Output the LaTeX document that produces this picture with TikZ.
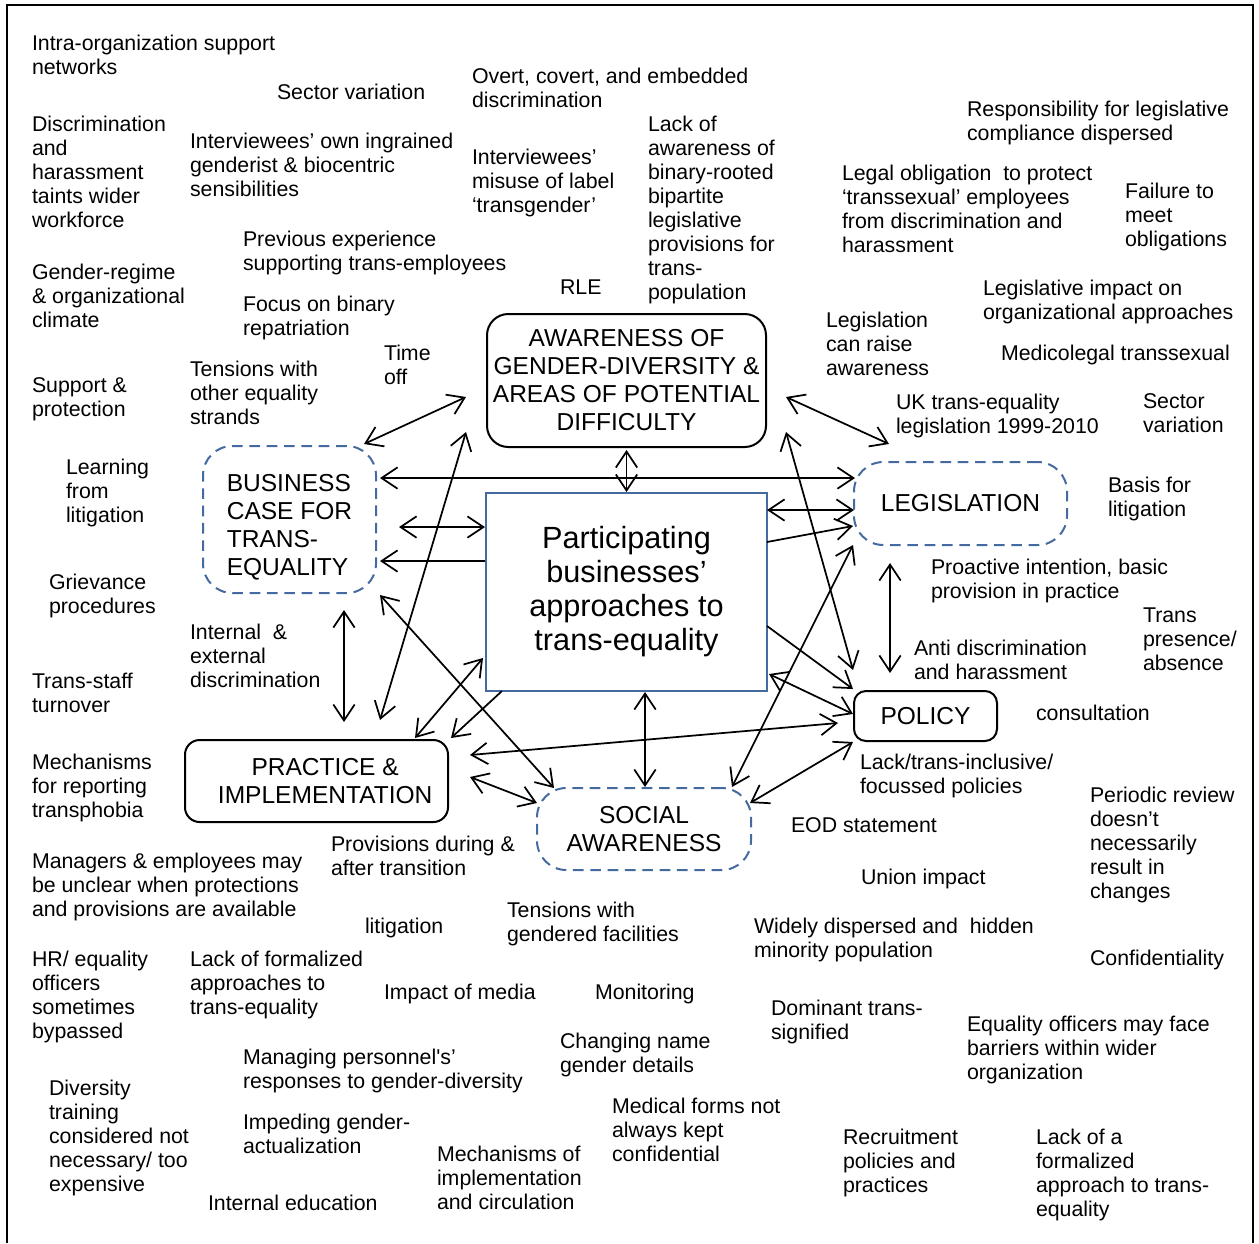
\documentclass[tikz,border=0pt]{standalone}
\usepackage{fontspec}
\setmainfont{Liberation Sans}
\usetikzlibrary{arrows.meta,calc}
\definecolor{boxblue}{RGB}{68,106,160}
\tikzset{
  lbl/.style={anchor=north west, inner sep=0pt, outer sep=0pt, align=left, font=\fontsize{16}{18}\selectfont},
  boxtxt/.style={align=center, inner sep=0pt, outer sep=0pt, font=\fontsize{18.4}{21}\selectfont},
  solidbox/.style={boxtxt, draw=black, line width=1.5pt},
  dashbox/.style={boxtxt, draw=boxblue, line width=1.5pt, dash pattern=on 8pt off 5pt, rounded corners=22pt},
  centbox/.style={draw=boxblue, line width=1.4pt, align=center, inner sep=0pt, outer sep=0pt, font=\fontsize{23}{25.5}\selectfont},
  conn/.style={line width=1.3pt},
  >={Straight Barb[length=12pt,width=16pt]}
}
\begin{document}
\begin{tikzpicture}[x=0.75pt,y=-0.75pt]
\useasboundingbox (0,0) rectangle (1259,1243);
% frame
\draw[line width=1.5pt] (7,1243) -- (7,5) -- (1253,5) -- (1253,1243);

% main nodes
\node[solidbox, rounded corners=16pt, minimum width=209.25pt, minimum height=99.75pt] (aw) at (626.5,380.5)
  {AWARENESS OF\\GENDER-DIVERSITY \&\\AREAS OF POTENTIAL\\DIFFICULTY};
\node[centbox, minimum width=210.75pt, minimum height=148.5pt] (cen) at (626.5,592)
  {Participating\\businesses’\\approaches to\\trans-equality};
\node[dashbox, minimum width=129.75pt, minimum height=110.25pt, align=left] (bus) at (289.5,519.5)
  {\rule{0pt}{24.4pt}BUSINESS\\CASE FOR\\TRANS-\\EQUALITY};
\node[dashbox, minimum width=159.75pt, minimum height=62.25pt] (leg) at (960.5,503.5) {LEGISLATION};
\node[solidbox, rounded corners=9pt, minimum width=107.25pt, minimum height=37.5pt] (pol) at (925.5,716) {POLICY};
\node[solidbox, rounded corners=11pt, minimum width=197.25pt, minimum height=61.5pt] (pra) at (316.5,781)
  {\kern13pt PRACTICE \&\\\kern13pt IMPLEMENTATION};
\node[dashbox, minimum width=160.5pt, minimum height=61.5pt] (soc) at (644,829) {SOCIAL\\AWARENESS};

% connectors
\draw[conn,<->] ($(aw.west)+(-21,16.5)$) -- ($(bus.north east)+(-12,-2)$);
\draw[conn,<->] ($(aw.south west)+(-21,-15)$) -- ($(pra.north east)+(-68,-20)$);
\draw[conn,<->] ($(bus.east)+(4,-41.5)$) -- ($(leg.west)+(1,-25.5)$);
\draw[conn,<->] ($(aw.south)+(0,3)$) -- ($(cen.north)+(0,-1)$);
\draw[conn,<->] ($(bus.east)+(23,7.5)$) -- ($(cen.west)+(-1,-65)$);
\draw[conn,->] ($(cen.west)+(-1,-31)$) -- ($(bus.east)+(4,41.5)$);
\draw[conn,<->] ($(cen.east)+(0,-82)$) -- ($(leg.west)+(0,6.5)$);
\draw[conn,->] ($(cen.east)+(0,-50)$) -- ($(leg.west)+(-1,22.5)$);
\draw[conn,<->] ($(aw.east)+(20,16.5)$) -- ($(leg.north west)+(35,-18)$);
\draw[conn,<->] ($(aw.south east)+(20,-15)$) -- ($(pol.north west)+(-1,-21)$);
\draw[conn,<->] ($(leg.south west)+(-1,0)$) -- ($(soc.north east)+(-19,-1)$);
\draw[conn,<->] ($(leg.south)+(-70.5,18)$) -- ($(pol.north)+(-35.5,-18)$);
\draw[conn,->] ($(cen.east)+(0,34)$) -- ($(pol.north west)+(-1,-2)$);
\draw[conn,<->] ($(cen.east)+(2,82)$) -- ($(pol.west)+(-1,-2)$);
\draw[conn,<->] ($(pra.east)+(22,-26)$) -- ($(pol.west)+(-16,7)$);
\draw[conn,<->] ($(soc.east)+(-1,-26)$) -- ($(pol.south west)+(-1,1)$);
\draw[conn,<->] ($(cen.south)+(18.5,1)$) -- ($(soc.north)+(1,-1)$);
\draw[conn,<->] ($(pra.east)+(22,-4)$) -- ($(soc.west)+(0,-26)$);
\draw[conn,<->] ($(bus.south east)+(4,2)$) -- ($(soc.north west)+(17,0)$);
\draw[conn,<->] ($(cen.south west)+(-3,-33)$) -- ($(pra.north)+(98.5,-2)$);
\draw[conn,->] ($(cen.south west)+(16,0)$) -- ($(pra.north east)+(3,-2)$);
\draw[conn,<->] ($(bus.south)+(54.5,17)$) -- ($(pra.north)+(27.5,-18)$);

% labels
\node[lbl] (t1) at (32,35) {Intra-organization support\\networks};
\node[lbl] (t2) at (277,84) {Sector variation};
\node[lbl] (t3) at (472,68) {Overt, covert, and embedded\\discrimination};
\node[lbl] (t4) at (32,116) {Discrimination\\and\\harassment\\taints wider\\workforce};
\node[lbl] (t5) at (190,133) {Interviewees’ own ingrained\\genderist \& biocentric\\sensibilities};
\node[lbl] (t6) at (472,149) {Interviewees’\\misuse of label\\‘transgender’};
\node[lbl] (t7) at (648,116) {Lack of\\awareness of\\binary-rooted\\bipartite\\legislative\\provisions for\\trans-\\population};
\node[lbl] (t8) at (243,231) {Previous experience\\supporting trans-employees};
\node[lbl] (t9) at (32,264) {Gender-regime\\\& organizational\\climate};
\node[lbl] (t10) at (243,296) {Focus on binary\\repatriation};
\node[lbl] (t11) at (560,280) {RLE};
\node[lbl] (t12) at (384,345) {Time\\off};
\node[lbl] (t13) at (190,361) {Tensions with\\other equality\\strands};
\node[lbl] (t14) at (32,378) {Support \&\\protection};
\node[lbl] (t15) at (967,101) {Responsibility for legislative\\compliance dispersed};
\node[lbl] (t16) at (842,165) {Legal obligation \ to protect\\‘transsexual’ employees\\from discrimination and\\harassment};
\node[lbl] (t17) at (1125,183) {Failure to\\meet\\obligations};
\node[lbl] (t18) at (983,280) {Legislative impact on\\organizational approaches};
\node[lbl] (t19) at (826,312) {Legislation\\can raise\\awareness};
\node[lbl] (t20) at (1001,345) {Medicolegal transsexual};
\node[lbl] (t21) at (896,394) {UK trans-equality\\legislation 1999-2010};
\node[lbl] (t22) at (1143,394) {Sector\\variation};
\node[lbl] (t23) at (66,459) {Learning\\from\\litigation};
\node[lbl] (t24) at (49,574) {Grievance\\procedures};
\node[lbl] (t25) at (190,624) {Internal \ \&\\external\\discrimination};
\node[lbl] (t26) at (32,673) {Trans-staff\\turnover};
\node[lbl] (t27) at (32,754) {Mechanisms\\for reporting\\transphobia};
\node[lbl] (t28) at (1108,477) {Basis for\\litigation};
\node[lbl] (t29) at (931,559) {Proactive intention, basic\\provision in practice};
\node[lbl] (t30) at (1143,608) {Trans\\presence/\\absence};
\node[lbl] (t31) at (914,640) {Anti discrimination\\and harassment};
\node[lbl] (t32) at (1036,705) {consultation};
\node[lbl] (t33) at (860,754) {Lack/trans-inclusive/\\focussed policies};
\node[lbl] (t34) at (1090,787) {Periodic review\\doesn’t\\necessarily\\result in\\changes};
\node[lbl] (t35) at (791,818) {EOD statement};
\node[lbl] (t36) at (331,836) {Provisions during \&\\after transition};
\node[lbl] (t37) at (32,853) {Managers \& employees may\\be unclear when protections\\and provisions are available};
\node[lbl] (t38) at (365,918) {litigation};
\node[lbl] (t39) at (507,902) {Tensions with\\gendered facilities};
\node[lbl] (t40) at (861,869) {Union impact};
\node[lbl] (t41) at (754,918) {Widely dispersed and \ hidden\\minority population};
\node[lbl] (t42) at (1090,950) {Confidentiality};
\node[lbl] (t43) at (32,951) {HR/ equality\\officers\\sometimes\\bypassed};
\node[lbl] (t44) at (190,951) {Lack of formalized\\approaches to\\trans-equality};
\node[lbl] (t45) at (384,984) {Impact of media};
\node[lbl] (t46) at (595,984) {Monitoring};
\node[lbl] (t47) at (771,1000) {Dominant trans-\\signified};
\node[lbl] (t48) at (967,1016) {Equality officers may face\\barriers within wider\\organization};
\node[lbl] (t49) at (560,1033) {Changing name\\gender details};
\node[lbl] (t50) at (243,1049) {Managing personnel\textquotesingle s’\\responses to gender-diversity};
\node[lbl] (t51) at (49,1080) {Diversity\\training\\considered not\\necessary/ too\\expensive};
\node[lbl] (t52) at (243,1114) {Impeding gender-\\actualization};
\node[lbl] (t53) at (612,1098) {Medical forms not\\always kept\\confidential};
\node[lbl] (t54) at (843,1129) {Recruitment\\policies and\\practices};
\node[lbl] (t55) at (1036,1129) {Lack of a\\formalized\\approach to trans-\\equality};
\node[lbl] (t56) at (437,1146) {Mechanisms of\\implementation\\and circulation};
\node[lbl] (t57) at (208,1195) {Internal education};
\end{tikzpicture}
\end{document}
